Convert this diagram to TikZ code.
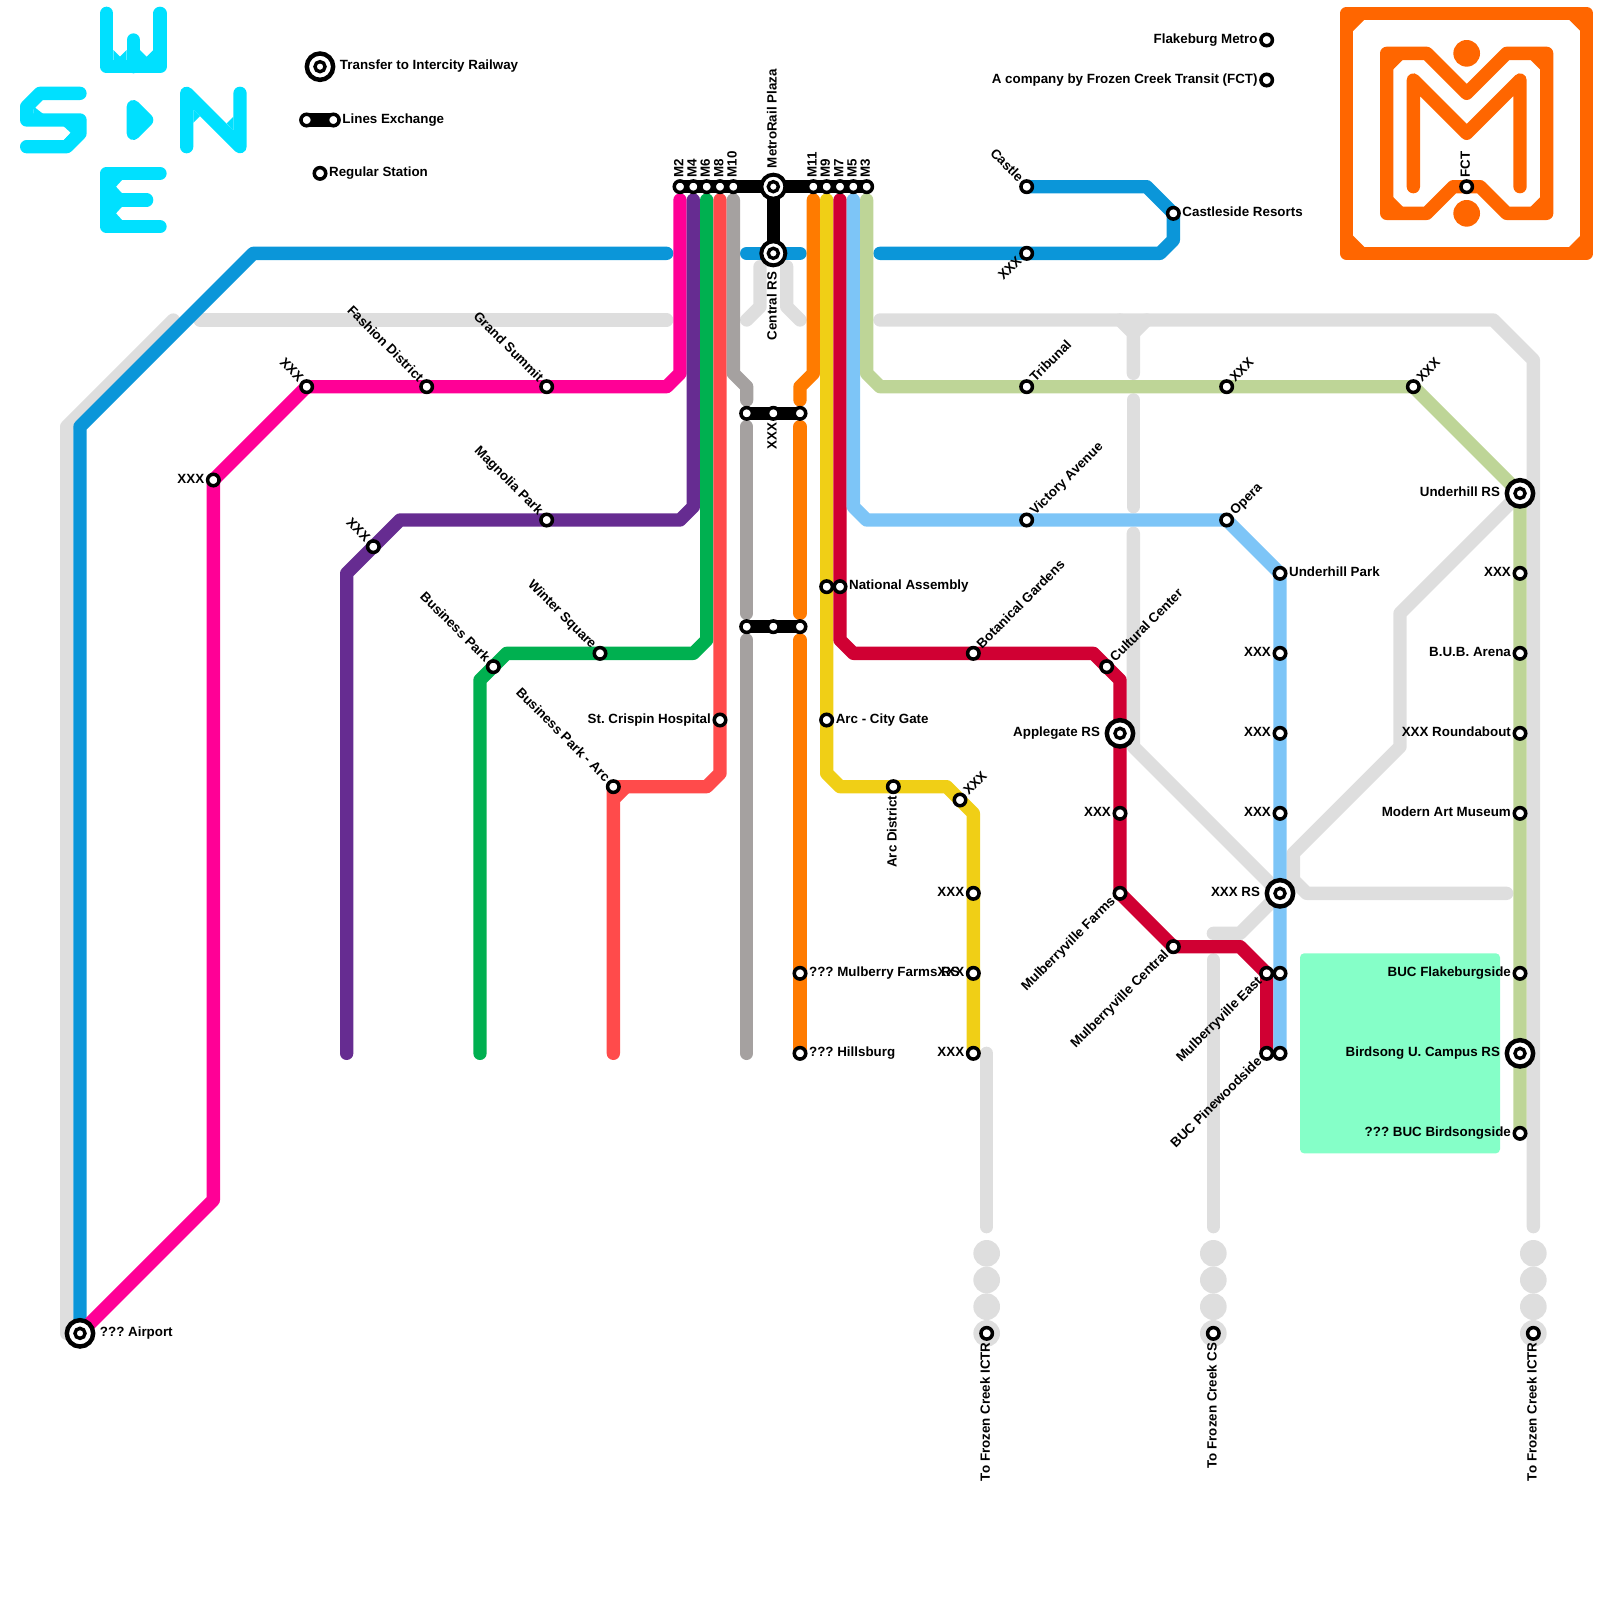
\documentclass[tikz,border=0pt]{standalone}
\usepackage{fontspec}
\setmainfont{Liberation Sans}
\usetikzlibrary{backgrounds, calc}
\definecolor{lineblue}{HTML}{0B96D9}
\definecolor{linepink}{HTML}{FF0096}
\definecolor{linepurple}{HTML}{662C91}
\definecolor{linegreen}{HTML}{00B050}
\definecolor{linecoral}{HTML}{FF4B4B}
\definecolor{linegray}{HTML}{A5A1A0}
\definecolor{lineorange}{HTML}{FF7B00}
\definecolor{lineyellow}{HTML}{F0CF16}
\definecolor{linecrimson}{HTML}{D00033}
\definecolor{linesky}{HTML}{7DC5F7}
\definecolor{linesage}{HTML}{BED597}
\definecolor{linefuture}{HTML}{DEDEDE}
\definecolor{compass}{HTML}{00E0FF}
\definecolor{logoorange}{HTML}{FF6600}
\definecolor{campus}{HTML}{85FFC8}
\begin{document}
\frenchspacing
\begin{tikzpicture}[x=0.4cm,y=-0.4cm]
    \tikzstyle{stn} = [circle, draw=black, fill=white, line width=3pt, minimum size=9.8pt, inner sep=0pt]
    \tikzstyle{rs} = [circle, draw=black, fill=white, line width=3.8pt, minimum size=22.5pt, inner sep=0pt,
        path picture={\draw[black, line width=2.9pt] (path picture bounding box.center) circle (4.3pt);}]
    \tikzstyle{rshub} = [rs, line width=3.4pt, minimum size=20.5pt]
    \tikzstyle{tag} = [font=\bfseries\fontsize{11.4}{13}\selectfont, inner sep=1.2pt, text height=1.55ex, text depth=0.5ex]
    \tikzstyle{far} = [inner sep=3.7pt]
    \tikzstyle{tagE} = [tag, anchor=west]
    \tikzstyle{tagW} = [tag, anchor=east]
    \tikzstyle{tagN} = [tag, rotate=90, anchor=west]
    \tikzstyle{tagS} = [tag, rotate=90, anchor=east]
    \tikzstyle{tagNE} = [tag, rotate=45, anchor=west]
    \tikzstyle{tagNW} = [tag, rotate=-45, anchor=east]
    \tikzstyle{tagSW} = [tag, rotate=45, anchor=east]
    \tikzstyle{route} = [line width=0.4cm, line cap=round, line join=round]
    \tikzstyle{top} = [shorten <=0.4cm]
    \tikzstyle{stub} = [shorten <=0.4cm, shorten >=0.4cm]
    \tikzstyle{tail} = [shorten >=0.4cm]
    \tikzstyle{link} = [black, line width=0.4cm, line cap=round]
    \tikzstyle{logo} = [logoorange, line width=0.4cm, line join=round, line cap=round]
    \tikzstyle{glyph} = [compass, line width=0.4cm, line join=round, line cap=round]

    \useasboundingbox (0,0) rectangle (120,120);

    % legend and the two company lines
    \node (legrs) [rs, label={[tagE, far]0:Transfer to Intercity Railway}] at (24,5) {};
    \node (lega) [stn] at (23,9) {};
    \node (legb) [stn, label={[tagE]0:Lines Exchange}] at (25,9) {};
    \node (legstn) [stn, label={[tagE]0:Regular Station}] at (24,13) {};
    \node (flake) [stn, label={[tagW]180:Flakeburg Metro}] at (95,3) {};
    \node (fct) [stn, label={[tagW]180:A company by Frozen Creek Transit (FCT)}] at (95,6) {};
    \node (logofct) [stn, label={[tagN]90:FCT}] at (110,14) {};

    % the hub
    \node (m2) [stn, label={[tagN]90:M2}] at (51,14) {};
    \node (m4) [stn, label={[tagN]90:M4}] at (52,14) {};
    \node (m6) [stn, label={[tagN]90:M6}] at (53,14) {};
    \node (m8) [stn, label={[tagN]90:M8}] at (54,14) {};
    \node (m10) [stn, label={[tagN]90:M10}] at (55,14) {};
    \node (m11) [stn, label={[tagN]90:M11}] at (61,14) {};
    \node (m9) [stn, label={[tagN]90:M9}] at (62,14) {};
    \node (m7) [stn, label={[tagN]90:M7}] at (63,14) {};
    \node (m5) [stn, label={[tagN]90:M5}] at (64,14) {};
    \node (m3) [stn, label={[tagN]90:M3}] at (65,14) {};
    \node (plaza) [rshub, label={[tagN, far]90:MetroRail Plaza}] at (58,14) {};
    \node (central) [rshub, label={[tagS, far]270:Central RS}] at (58,19) {};
    \node (xa) [stn] at (56,31) {};
    \node (xb) [stn, label={[tagS]270:XXX}] at (58,31) {};
    \node (xc) [stn] at (60,31) {};
    \node (ya) [stn] at (56,47) {};
    \node (yb) [stn] at (58,47) {};
    \node (yc) [stn] at (60,47) {};

    % west side
    \node (airport) [rs, label={[tagE, far]0:??? Airport}] at (6,100) {};
    \node (pinka) [stn, label={[tagW]180:XXX}] at (16,36) {};
    \node (pinkb) [stn, label={[tagNW]135:XXX}] at (23,29) {};
    \node (fashion) [stn, label={[tagNW]135:Fashion District}] at (32,29) {};
    \node (summit) [stn, label={[tagNW]135:Grand Summit}] at (41,29) {};
    \node (purplea) [stn, label={[tagNW]135:XXX}] at (28,41) {};
    \node (magnolia) [stn, label={[tagNW]135:Magnolia Park}] at (41,39) {};
    \node (bizpark) [stn, label={[tagNW]135:Business Park}] at (37,50) {};
    \node (winter) [stn, label={[tagNW]135:Winter Square}] at (45,49) {};
    \node (crispin) [stn, label={[tagW]180:St. Crispin Hospital}] at (54,54) {};
    \node (bizarc) [stn, label={[tagNW]135:Business Park - Arc}] at (46,59) {};
    \node (mulbfarmsrs) [stn, label={[tagE]0:??? Mulberry Farms RS}] at (60,73) {};
    \node (hillsburg) [stn, label={[tagE]0:??? Hillsburg}] at (60,79) {};

    % yellow and crimson
    \node (yellowa) [stn] at (62,44) {};
    \node (assembly) [stn, label={[tagE]0:National Assembly}] at (63,44) {};
    \node (gate) [stn, label={[tagE]0:Arc - City Gate}] at (62,54) {};
    \node (arcdist) [stn, label={[tagS]270:Arc District}] at (67,59) {};
    \node (yellowb) [stn, label={[tagNE]45:XXX}] at (72,60) {};
    \node (yellowc) [stn, label={[tagW]180:XXX}] at (73,67) {};
    \node (yellowd) [stn, label={[tagW]180:XXX}] at (73,73) {};
    \node (yellowe) [stn, label={[tagW]180:XXX}] at (73,79) {};
    \node (botanical) [stn, label={[tagNE]45:Botanical Gardens}] at (73,49) {};
    \node (cultural) [stn, label={[tagNE]45:Cultural Center}] at (83,50) {};
    \node (applegate) [rs, label={[tagW, far]180:Applegate RS}] at (84,55) {};
    \node (crimsona) [stn, label={[tagW]180:XXX}] at (84,61) {};
    \node (mfarms) [stn, label={[tagSW]225:Mulberryville Farms}] at (84,67) {};
    \node (mcentral) [stn, label={[tagSW]225:Mulberryville Central}] at (88,71) {};
    \node (meast) [stn, label={[tagSW]225:Mulberryville East}] at (95,73) {};
    \node (pinewood) [stn, label={[tagSW]225:BUC Pinewoodside}] at (95,79) {};

    % north east
    \node (castle) [stn, label={[tagNW]135:Castle}] at (77,14) {};
    \node (bluea) [stn, label={[tagSW]225:XXX}] at (77,19) {};
    \node (castleside) [stn, label={[tagE]0:Castleside Resorts}] at (88,16) {};
    \node (tribunal) [stn, label={[tagNE]45:Tribunal}] at (77,29) {};
    \node (sagea) [stn, label={[tagNE]45:XXX}] at (92,29) {};
    \node (sageb) [stn, label={[tagNE]45:XXX}] at (106,29) {};
    \node (victory) [stn, label={[tagNE]45:Victory Avenue}] at (77,39) {};
    \node (opera) [stn, label={[tagNE]45:Opera}] at (92,39) {};
    \node (uhpark) [stn, label={[tagE]0:Underhill Park}] at (96,43) {};
    \node (skya) [stn, label={[tagW]180:XXX}] at (96,49) {};
    \node (skyb) [stn, label={[tagW]180:XXX}] at (96,55) {};
    \node (skyc) [stn, label={[tagW]180:XXX}] at (96,61) {};
    \node (xxxrs) [rs, label={[tagW, far]180:XXX RS}] at (96,67) {};
    \node (skyd) [stn] at (96,73) {};
    \node (skye) [stn] at (96,79) {};
    \node (underhill) [rs, label={[tagW, far]180:Underhill RS}] at (114,37) {};
    \node (sagec) [stn, label={[tagW]180:XXX}] at (114,43) {};
    \node (arena) [stn, label={[tagW]180:B.U.B. Arena}] at (114,49) {};
    \node (roundabout) [stn, label={[tagW]180:XXX Roundabout}] at (114,55) {};
    \node (museum) [stn, label={[tagW]180:Modern Art Museum}] at (114,61) {};
    \node (flakeside) [stn, label={[tagW]180:BUC Flakeburgside}] at (114,73) {};
    \node (birdsong) [rs, label={[tagW, far]180:Birdsong U. Campus RS}] at (114,79) {};
    \node (songside) [stn, label={[tagW]180:??? BUC Birdsongside}] at (114,85) {};

    % the three southern ends
    \node (ictra) [stn, label={[tagS]270:To Frozen Creek ICTR}] at (74,100) {};
    \node (cs) [stn, label={[tagS]270:To Frozen Creek CS}] at (91,100) {};
    \node (ictrb) [stn, label={[tagS]270:To Frozen Creek ICTR}] at (115,100) {};

    % free ends of the lines
    \coordinate (greya) at (5,100);
    \coordinate (greyb) at (13,24);
    \coordinate (greyc) at (15,24);
    \coordinate (greyd) at (50,24);
    \coordinate (greye) at (56,24);
    \coordinate (greyf) at (57,20);
    \coordinate (greyg) at (59,20);
    \coordinate (greyh) at (60,24);
    \coordinate (greyi) at (66,24);
    \coordinate (greyj) at (115,92);
    \coordinate (greyk) at (85,25);
    \coordinate (greyl) at (85,28);
    \coordinate (greym) at (85,30);
    \coordinate (greyn) at (85,38);
    \coordinate (greyo) at (85,40);
    \coordinate (greyp) at (113,67);
    \coordinate (greyq) at (91,70);
    \coordinate (greyr) at (91,72);
    \coordinate (greys) at (91,92);
    \coordinate (greyt) at (74,79);
    \coordinate (greyu) at (74,92);
    \coordinate (bluestop) at (50,19);
    \coordinate (bluemida) at (56,19);
    \coordinate (bluemidb) at (60,19);
    \coordinate (bluestart) at (66,19);
    \coordinate (purpleend) at (26,79);
    \coordinate (greenend) at (36,79);
    \coordinate (coralend) at (46,79);
    \coordinate (grayend) at (56,79);

    \begin{scope}[on background layer]
    \fill [campus, rounded corners=3.5pt] (97.5,71.5) rectangle (112.5,86.5);

    % compass letters
    \draw [glyph] (8,1) -- (8,5) -- (12,5) -- (12,1);
    \draw [glyph] (10,3) -- (10,5);
    \fill [compass] (8.5,3.75) -- (9,4.25) -- (9.5,3.75) -- (9.5,4.6) -- (8.5,4.6) -- cycle;
    \fill [compass] (10.5,3.75) -- (11,4.25) -- (11.5,3.75) -- (11.5,4.6) -- (10.5,4.6) -- cycle;
    \draw [glyph] (6,7) -- (3,7) -- (2,8) -- (2,9) -- (6,9) -- (6,10) -- (5,11) -- (2,11);
    \fill [compass] (2.5,7.9) -- (2.7,8.125) -- (3.25,8.55) -- (2.5,8.55) -- cycle;
    \fill [compass] (5.55,9.45) -- (4.75,9.45) -- (5.3,9.95) -- (4.75,10.55) -- (5.55,10.55) -- cycle;
    \draw [glyph, fill=compass] (10,8) -- (11,9) -- (10,10) -- cycle;
    \draw [glyph] (14,11) -- (14,7) -- (18,11) -- (18,7);
    \fill [compass] (14.5,8.2) -- (15,8.7) -- (14.5,9.2) -- cycle;
    \fill [compass] (17.5,8.75) -- (17,9.25) -- (17.5,9.8) -- cycle;
    \draw [glyph] (12,13) -- (8,13) -- (8,17) -- (12,17);
    \draw [glyph] (11,15) -- (8,15);
    \fill [compass] (8.45,13.45) -- (9.2,13.45) -- (8.7,14) -- (9.2,14.55) -- (8.45,14.55) -- cycle;
    \fill [compass] (8.45,15.45) -- (9.2,15.45) -- (8.7,16) -- (9.2,16.55) -- (8.45,16.55) -- cycle;

    % company logo
    \draw [logo] (101,1) rectangle (119,19);
    \foreach \sx/\sy/\dx/\dy in {101.4/1.4/1/1, 118.6/1.4/-1/1, 101.4/18.6/1/-1, 118.6/18.6/-1/-1}
        \fill [logoorange] (\sx,\sy) -- ++(\dx,0) -- ++(-\dx,\dy) -- cycle;
    \draw [logo] (104,4) -- (107,4) -- (110,7) -- (113,4) -- (116,4) -- (116,16) -- (113,16) -- (111,14)
        -- (109,14) -- (107,16) -- (104,16) -- cycle;
    \foreach \sx/\sy/\dx/\dy in {104.4/4.4/0.9/0.9, 115.6/4.4/-0.9/0.9, 104.4/15.6/0.9/-0.9, 115.6/15.6/-0.9/-0.9}
        \fill [logoorange] (\sx,\sy) -- ++(\dx,0) -- ++(-\dx,\dy) -- cycle;
    \draw [logo] (106,14) -- (106,6) -- (110,10) -- (114,6) -- (114,14);
    \fill [logoorange] (110,4) circle (1);
    \fill [logoorange] (110,16) circle (1);

    % planned lines
    \draw [route, linefuture] (greya) -- (5,32) -- (greyb);
    \draw [route, linefuture] (greyc) -- (greyd);
    \draw [route, linefuture] (greye) -- (57,23) -- (greyf);
    \draw [route, linefuture] (greyh) -- (59,23) -- (greyg);
    \draw [route, linefuture] (greyi) -- (112,24) -- (115,27) -- (greyj);
    \draw [route, linefuture] (84,24) -- (greyk) -- (greyl);
    \draw [route, linefuture] (86,24) -- (greyk);
    \draw [route, linefuture] (greym) -- (greyn);
    \draw [route, linefuture] (greyo) -- (85,56) -- (xxxrs.center);
    \draw [route, linefuture] (underhill.center) -- (105,46) -- (105,56) -- (97,64) -- (97,66) -- (98,67) -- (greyp);
    \draw [route, linefuture] (xxxrs.center) -- (93,70) -- (greyq);
    \draw [route, linefuture] (greyr) -- (greys);
    \draw [route, linefuture] (greyt) -- (greyu);
    \foreach \farend in {ictra, cs, ictrb} {
        \foreach \gap in {0,2,4,6}
            \fill [linefuture] ($(\farend)+(0,-\gap)$) circle (1);
    }

    % running lines
    \draw [route, lineblue] (airport.center) -- (6,32) -- (19,19) -- (bluestop);
    \draw [route, lineblue] (bluemida) -- (bluemidb);
    \draw [route, lineblue] (bluestart) -- (bluea.center) -- (87,19) -- (88,18) -- (castleside.center) -- (86,14) -- (castle.center);
    \draw [route, linepink, tail] (airport.center) -- (16,90) -- (pinka.center) -- (pinkb.center) -- (fashion.center)
        -- (summit.center) -- (50,29) -- (51,28) -- (m2.center);
    \draw [route, linepurple, tail] (purpleend) -- (26,43) -- (purplea.center) -- (30,39) -- (magnolia.center)
        -- (51,39) -- (52,38) -- (m4.center);
    \draw [route, linegreen, tail] (greenend) -- (36,51) -- (bizpark.center) -- (38,49) -- (winter.center)
        -- (52,49) -- (53,48) -- (m6.center);
    \draw [route, linecoral, tail] (coralend) -- (bizarc.center) -- (53,59) -- (54,58) -- (crispin.center) -- (m8.center);
    \fill [linecoral] (46.45,59.45) -- (47.2,59.45) -- (46.45,60.2) -- cycle;
    \draw [route, linegray, stub] (m10.center) -- (55,28) -- (56,29) -- (xa.center);
    \draw [route, linegray, stub] (xa.center) -- (ya.center);
    \draw [route, linegray, top] (ya.center) -- (grayend);
    \draw [route, lineorange, stub] (m11.center) -- (61,28) -- (60,29) -- (xc.center);
    \draw [route, lineorange, stub] (xc.center) -- (yc.center);
    \draw [route, lineorange, top] (yc.center) -- (mulbfarmsrs.center) -- (hillsburg.center);
    \draw [route, lineyellow, top] (m9.center) -- (yellowa.center) -- (gate.center) -- (62,58) -- (63,59)
        -- (arcdist.center) -- (71,59) -- (yellowb.center) -- (73,61) -- (yellowc.center) -- (yellowd.center) -- (yellowe.center);
    \draw [route, linecrimson, top] (m7.center) -- (assembly.center) -- (63,48) -- (64,49) -- (botanical.center)
        -- (82,49) -- (cultural.center) -- (84,51) -- (applegate.center) -- (crimsona.center) -- (mfarms.center)
        -- (mcentral.center) -- (93,71) -- (meast.center) -- (pinewood.center);
    \draw [route, linesky, top] (m5.center) -- (64,38) -- (65,39) -- (victory.center) -- (opera.center) -- (uhpark.center)
        -- (skya.center) -- (skyb.center) -- (skyc.center) -- (xxxrs.center) -- (skyd.center) -- (skye.center);
    \draw [route, linesage, top] (m3.center) -- (65,28) -- (66,29) -- (tribunal.center) -- (sagea.center) -- (sageb.center)
        -- (underhill.center) -- (sagec.center) -- (arena.center) -- (roundabout.center) -- (museum.center)
        -- (flakeside.center) -- (birdsong.center) -- (songside.center);

    % exchanges
    \draw [link] (m2.center) -- (m3.center);
    \draw [link] (plaza.center) -- (central.center);
    \draw [link] (xa.center) -- (xc.center);
    \draw [link] (ya.center) -- (yc.center);
    \draw [link] (lega.center) -- (legb.center);
    \end{scope}
\end{tikzpicture}
\end{document}
